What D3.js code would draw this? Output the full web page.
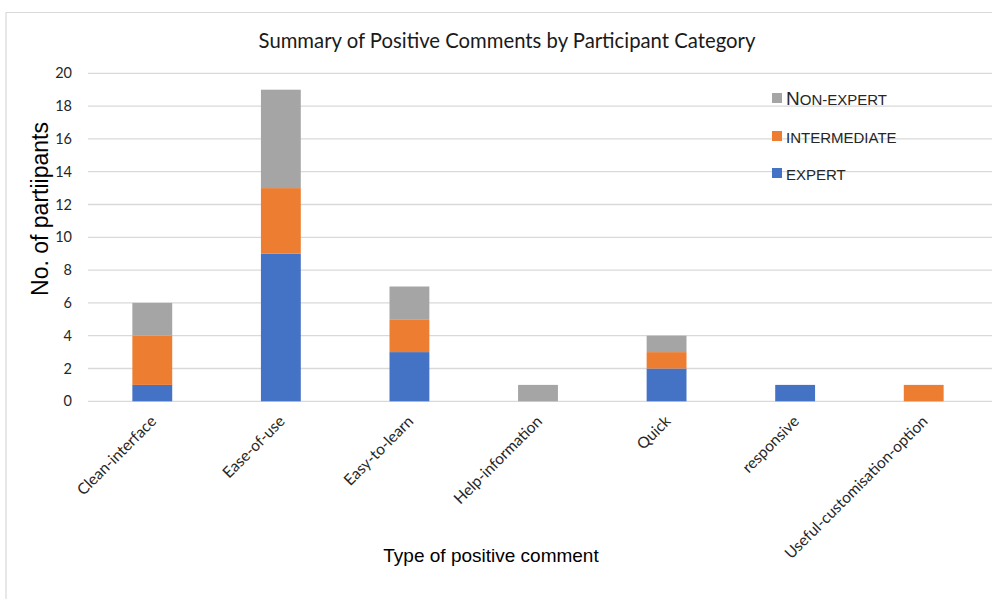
<!DOCTYPE html>
<html>
<head>
<meta charset="utf-8">
<script src="https://cdn.jsdelivr.net/npm/d3@7"></script>
<style>
  html, body { margin: 0; padding: 0; background: #fff; }
  svg { display: block; }
</style>
</head>
<body>
<svg id="chart" width="992" height="599"></svg>
<script>
// Positive comments per comment type, split by participant category
const categories = ["Clean-interface", "Ease-of-use", "Easy-to-learn", "Help-information", "Quick", "responsive", "Useful-customisation-option"];
const expert       = [1, 9, 3, 0, 2, 1, 0];
const intermediate = [3, 4, 2, 0, 1, 0, 1];
const nonExpert    = [2, 6, 2, 1, 1, 0, 0];
const yTicks = [0, 2, 4, 6, 8, 10, 12, 14, 16, 18, 20];

const seriesKeys = ["expert", "intermediate", "nonExpert"];
const colors = { expert: "#4472C4", intermediate: "#ED7D31", nonExpert: "#A5A5A5" };

const rows = categories.map((c, i) => ({
  category: c,
  expert: expert[i],
  intermediate: intermediate[i],
  nonExpert: nonExpert[i]
}));

const svg = d3.select("#chart");
const calibriLike = "Lato, 'Open Sans', sans-serif";
const arialLike = "'Liberation Sans', Arial, sans-serif";

// outer frame
svg.append("path")
  .attr("d", "M6,599 L6,12.5 L992,12.5")
  .attr("fill", "none")
  .attr("stroke", "#d9d9d9")
  .attr("stroke-width", 1.2);

const x = d3.scaleBand().domain(categories).range([88, 988])
  .paddingInner(0.69).paddingOuter(0.345);
const y = d3.scaleLinear().domain([0, 20]).range([401.3, 73.3]);

// gridlines
svg.append("g")
  .selectAll("line")
  .data(yTicks)
  .join("line")
  .attr("x1", 88).attr("x2", 992)
  .attr("y1", d => y(d)).attr("y2", d => y(d))
  .attr("stroke", "#d9d9d9")
  .attr("stroke-width", 1.3);

// y axis tick labels
const yAxis = d3.axisLeft(y).tickValues(yTicks).tickSize(0).tickPadding(0);
const yg = svg.append("g").attr("transform", "translate(72,0)").call(yAxis);
yg.select(".domain").remove();
yg.selectAll("text")
  .attr("font-family", calibriLike)
  .attr("font-size", 14.5)
  .attr("fill", "#262626");

// stacked bars
const stack = d3.stack().keys(seriesKeys)(rows);
svg.append("g")
  .selectAll("g")
  .data(stack)
  .join("g")
  .attr("fill", d => colors[d.key])
  .selectAll("rect")
  .data(d => d)
  .join("rect")
  .attr("x", d => x(d.data.category))
  .attr("width", x.bandwidth())
  .attr("y", d => y(d[1]))
  .attr("height", d => y(d[0]) - y(d[1]));

// x axis category labels, rotated
const xAxis = d3.axisBottom(x).tickSize(0).tickPadding(0);
const xg = svg.append("g").attr("transform", "translate(0,401.3)").call(xAxis);
xg.select(".domain").remove();
xg.selectAll("text")
  .attr("font-family", calibriLike)
  .attr("font-size", 15.5)
  .attr("fill", "#262626")
  .attr("text-anchor", "end")
  .attr("dy", null)
  .attr("y", 0)
  .attr("transform", "translate(5,21) rotate(-45)");

// title
svg.append("text")
  .attr("x", 507).attr("y", 48)
  .attr("text-anchor", "middle")
  .attr("font-family", calibriLike)
  .attr("font-size", 20.3)
  .attr("fill", "#1a1a1a")
  .text("Summary of Positive Comments by Participant Category");

// axis titles
svg.append("text")
  .attr("transform", "translate(48,209) rotate(-90)")
  .attr("text-anchor", "middle")
  .attr("font-family", arialLike)
  .attr("font-size", 23)
  .attr("fill", "#000")
  .text("No. of partiipants");

svg.append("text")
  .attr("x", 491).attr("y", 562)
  .attr("text-anchor", "middle")
  .attr("font-family", arialLike)
  .attr("font-size", 19)
  .attr("fill", "#000")
  .text("Type of positive comment");

// legend
const legendItems = [
  { key: "nonExpert", first: "N", rest: "ON-EXPERT", y: 98 },
  { key: "intermediate", first: "", rest: "INTERMEDIATE", y: 136 },
  { key: "expert", first: "", rest: "EXPERT", y: 173 }
];
const lg = svg.append("g");
legendItems.forEach(it => {
  lg.append("rect")
    .attr("x", 772).attr("y", it.y - 5)
    .attr("width", 10).attr("height", 10)
    .attr("fill", colors[it.key]);
  const t = lg.append("text")
    .attr("x", 786).attr("y", it.y + 7)
    .attr("font-family", arialLike)
    .attr("fill", "#262626");
  if (it.first) t.append("tspan").attr("font-size", 19).text(it.first);
  t.append("tspan").attr("font-size", 15).text(it.rest);
});
</script>
</body>
</html>
